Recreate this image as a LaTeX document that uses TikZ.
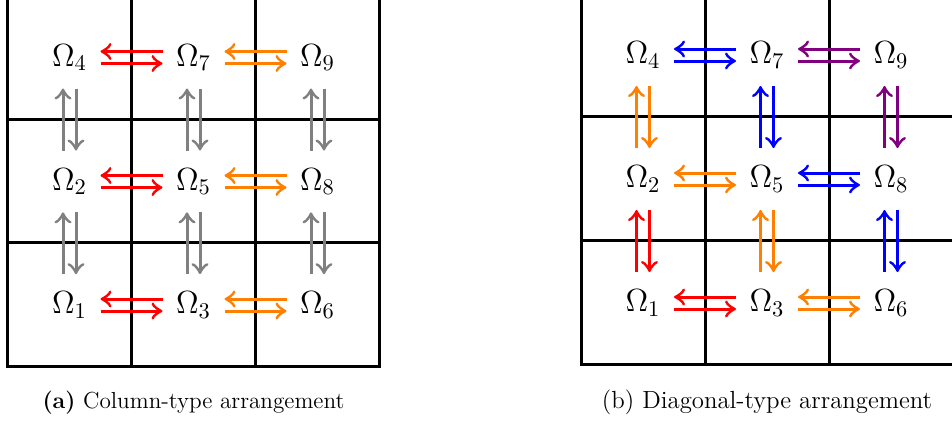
\documentclass[tikz,border=0pt]{standalone}
\usepackage{fix-cm}
\usetikzlibrary{calc,arrows.meta}
\definecolor{gorange}{RGB}{255,128,0}
\definecolor{ggray}{RGB}{128,128,128}
\definecolor{gblue}{RGB}{0,0,255}
\definecolor{gred}{RGB}{255,0,0}
\definecolor{gpurple}{RGB}{128,0,128}
% horizontal pair: #1 left node, #2 right node, #3 colour
\newcommand{\Hpair}[3]{%
  \draw[arr,#3] ($(#1)!0.75!(#2)+(0,-6)$) -- ($(#1)!0.25!(#2)+(0,-6)$);
  \draw[arr,#3] ($(#1)!0.25!(#2)+(0,6)$) -- ($(#1)!0.75!(#2)+(0,6)$);}
% vertical pair: #1 upper node, #2 lower node, #3 colour
\newcommand{\Vpair}[3]{%
  \draw[arr,#3] ($(#1)!0.75!(#2)+(-6.5,0)$) -- ($(#1)!0.25!(#2)+(-6.5,0)$);
  \draw[arr,#3] ($(#1)!0.25!(#2)+(6.5,0)$) -- ($(#1)!0.75!(#2)+(6.5,0)$);}
\begin{document}
\begin{tikzpicture}[x=0.5pt,y=-0.5pt,
  gridline/.style={line width=1.5pt,line cap=rect},
  lab/.style={inner sep=0pt,font=\fontsize{16}{19}\selectfont},
  arr/.style={line width=1.5pt,-{Classical TikZ Rightarrow[length=5.5pt,width=8.5pt]}},
  captext/.style={inner sep=0pt}]
\useasboundingbox (0,0) rectangle (952,425);
\clip (0,0) rectangle (952,425);
% ---------- left grid ----------
\draw[gridline] (7.5,-20) -- (7.5,366) -- (379.5,366) -- (379.5,-20);
\foreach \x in {131.5,255.5} \draw[gridline] (\x,-20) -- (\x,366);
\foreach \y in {-4.5,119,242.5} \draw[gridline] (7.5,\y) -- (379.5,\y);
% ---------- right grid ----------
\draw[gridline] (581,-20) -- (581,364) -- (970,364);
\foreach \x in {705,829} \draw[gridline] (\x,-20) -- (\x,364);
\foreach \y in {-8,116,240} \draw[gridline] (581,\y) -- (970,\y);
% ---------- left labels ----------
\node[lab] (a4) at (69.5,57.5) {$\Omega_4$};
\node[lab] (a7) at (193.5,57.5) {$\Omega_7$};
\node[lab] (a9) at (317.5,57.5) {$\Omega_9$};
\node[lab] (a2) at (69.5,181.5) {$\Omega_2$};
\node[lab] (a5) at (193.5,181.5) {$\Omega_5$};
\node[lab] (a8) at (317.5,181.5) {$\Omega_8$};
\node[lab] (a1) at (69.5,305) {$\Omega_1$};
\node[lab] (a3) at (193.5,305) {$\Omega_3$};
\node[lab] (a6) at (317.5,305) {$\Omega_6$};
% ---------- right labels ----------
\node[lab] (b4) at (643,55) {$\Omega_4$};
\node[lab] (b7) at (767,55) {$\Omega_7$};
\node[lab] (b9) at (891,55) {$\Omega_9$};
\node[lab] (b2) at (643,179) {$\Omega_2$};
\node[lab] (b5) at (767,179) {$\Omega_5$};
\node[lab] (b8) at (891,179) {$\Omega_8$};
\node[lab] (b1) at (643,303) {$\Omega_1$};
\node[lab] (b3) at (767,303) {$\Omega_3$};
\node[lab] (b6) at (891,303) {$\Omega_6$};
% ---------- left arrows ----------
\Hpair{a4}{a7}{gred}
\Hpair{a2}{a5}{gred}
\Hpair{a1}{a3}{gred}
\Hpair{a7}{a9}{gorange}
\Hpair{a5}{a8}{gorange}
\Hpair{a3}{a6}{gorange}
\Vpair{a4}{a2}{ggray}
\Vpair{a7}{a5}{ggray}
\Vpair{a9}{a8}{ggray}
\Vpair{a2}{a1}{ggray}
\Vpair{a5}{a3}{ggray}
\Vpair{a8}{a6}{ggray}
% ---------- right arrows ----------
\Hpair{b4}{b7}{gblue}
\Hpair{b7}{b9}{gpurple}
\Hpair{b2}{b5}{gorange}
\Hpair{b5}{b8}{gblue}
\Hpair{b1}{b3}{gred}
\Hpair{b3}{b6}{gorange}
\Vpair{b4}{b2}{gorange}
\Vpair{b7}{b5}{gblue}
\Vpair{b9}{b8}{gpurple}
\Vpair{b2}{b1}{gred}
\Vpair{b5}{b3}{gorange}
\Vpair{b8}{b6}{gblue}
% ---------- captions ----------
\node[captext,font=\fontsize{11.6}{14}\selectfont] (capa) at (193.5,403) {\textbf{(a)} Column-type arrangement};
\node[captext,font=\fontsize{12.4}{15}\selectfont] (capb) at (767,402) {(b) Diagonal-type arrangement};
\end{tikzpicture}
\end{document}
